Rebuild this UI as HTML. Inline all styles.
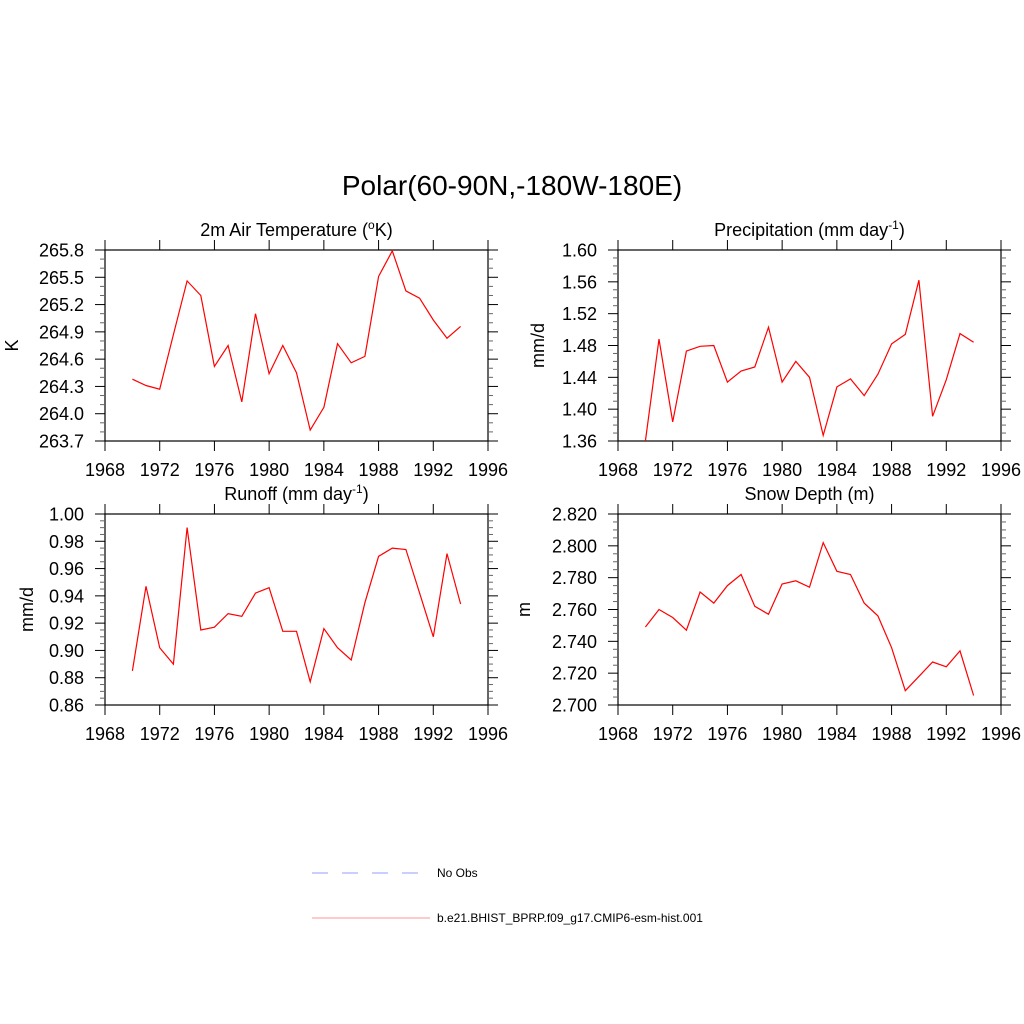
<!DOCTYPE html>
<html><head><meta charset="utf-8"><style>
html,body{margin:0;padding:0;background:#fff;}
svg{display:block;font-family:"Liberation Sans",sans-serif;}
</style></head><body>
<svg id="chart" width="1024" height="1024" viewBox="0 0 1024 1024">
<text x="512" y="195" font-size="28" text-anchor="middle">Polar(60-90N,-180W-180E)</text>
<g id="panels"></g>
<g>
<line x1="312" y1="873" x2="430" y2="873" stroke="#aab0ff" stroke-width="1.2" stroke-dasharray="16,14"/>
<text x="437" y="877" font-size="12">No Obs</text>
<line x1="312" y1="918" x2="430" y2="918" stroke="#ffaaaa" stroke-width="1.2"/>
<text x="437" y="922" font-size="12">b.e21.BHIST_BPRP.f09_g17.CMIP6-esm-hist.001</text>
</g>
</svg>
<script>
const years = [1970,1971,1972,1973,1974,1975,1976,1977,1978,1979,1980,1981,1982,1983,1984,1985,1986,1987,1988,1989,1990,1991,1992,1993,1994];
const tempValues = [264.38,264.31,264.27,264.87,265.46,265.30,264.52,264.75,264.13,265.10,264.44,264.75,264.45,263.82,264.07,264.77,264.56,264.63,265.51,265.79,265.35,265.27,265.03,264.83,264.96];
const precValues = [1.36,1.488,1.384,1.473,1.479,1.480,1.434,1.448,1.453,1.503,1.434,1.460,1.440,1.367,1.428,1.438,1.417,1.444,1.482,1.494,1.562,1.391,1.437,1.495,1.484];
const runoffValues = [0.885,0.947,0.902,0.890,0.990,0.915,0.917,0.927,0.925,0.942,0.946,0.914,0.914,0.877,0.916,0.902,0.893,0.935,0.969,0.975,0.974,0.942,0.910,0.971,0.934];
const snowValues = [2.749,2.760,2.755,2.747,2.771,2.764,2.775,2.782,2.762,2.757,2.776,2.778,2.774,2.802,2.784,2.782,2.764,2.756,2.736,2.709,2.718,2.727,2.724,2.734,2.706];
const xTicks = [1968,1972,1976,1980,1984,1988,1992,1996];
const tempTicks = ["263.7","264.0","264.3","264.6","264.9","265.2","265.5","265.8"];
const precTicks = ["1.36","1.40","1.44","1.48","1.52","1.56","1.60"];
const runoffTicks = ["0.86","0.88","0.90","0.92","0.94","0.96","0.98","1.00"];
const snowTicks = ["2.700","2.720","2.740","2.760","2.780","2.800","2.820"];

const NS='http://www.w3.org/2000/svg';
const root=document.getElementById('panels');
function mk(tag,attrs,parent){const e=document.createElementNS(NS,tag);for(const k in attrs)e.setAttribute(k,attrs[k]);parent.appendChild(e);return e;}

const panels=[
 {name:'temperature',x:105,y:250,title:'2m Air Temperature (',sup:'o',tail:'K)',ylab:'K',ticks:tempTicks,vals:tempValues,minor:3,yoff:93},
 {name:'precipitation',x:618,y:250,title:'Precipitation (mm day',sup:'-1',tail:')',ylab:'mm/d',ticks:precTicks,vals:precValues,minor:4,yoff:80},
 {name:'runoff',x:105,y:514,title:'Runoff (mm day',sup:'-1',tail:')',ylab:'mm/d',ticks:runoffTicks,vals:runoffValues,minor:4,yoff:78},
 {name:'snow-depth',x:618,y:514,title:'Snow Depth (m)',sup:'',tail:'',ylab:'m',ticks:snowTicks,vals:snowValues,minor:4,yoff:94}
];
const W=383,H=191;
panels.forEach(p=>{
 const g=mk('g',{},root);
 
 
 const x0=p.x,y0=p.y;
 const ymin=parseFloat(p.ticks[0]),ymax=parseFloat(p.ticks[p.ticks.length-1]);
 const sx=v=>x0+(v-xTicks[0])/(xTicks[xTicks.length-1]-xTicks[0])*W;
 const sy=v=>y0+H-(v-ymin)/(ymax-ymin)*H;
 const t=mk('text',{x:x0+W/2,y:y0-14,'font-size':18,'text-anchor':'middle'},g);
 
 
 t.appendChild(document.createTextNode(p.title));
 if(p.sup){const s=mk('tspan',{dy:-7,'font-size':12},t);s.textContent=p.sup;const r=mk('tspan',{dy:7},t);r.textContent=p.tail;}
 const fr=mk('rect',{x:x0,y:y0,width:W,height:H,fill:'none',stroke:'#000','stroke-width':1.2},g);
 
 
 const n=p.ticks.length-1;
 for(let i=0;i<=n;i++){
  const v=ymin+(ymax-ymin)*i/n, yy=sy(v);
  mk('line',{x1:x0-10,y1:yy,x2:x0,y2:yy,stroke:'#000','stroke-width':1},g);
  mk('line',{x1:x0+W,y1:yy,x2:x0+W+10,y2:yy,stroke:'#000','stroke-width':1},g);
  const lb=mk('text',{x:x0-21,y:yy+6.5,'font-size':18,'text-anchor':'end'},g);
  
  
  lb.textContent=p.ticks[i];
  if(i<n){for(let k=1;k<p.minor;k++){const ym=yy-(H/n)*k/p.minor;
   mk('line',{x1:x0-5,y1:ym,x2:x0,y2:ym,stroke:'#666','stroke-width':1},g);
   mk('line',{x1:x0+W,y1:ym,x2:x0+W+5,y2:ym,stroke:'#666','stroke-width':1},g);}}
 }
 xTicks.forEach(yr=>{const xx=sx(yr);
  mk('line',{x1:xx,y1:y0+H,x2:xx,y2:y0+H+10,stroke:'#000','stroke-width':1},g);
  mk('line',{x1:xx,y1:y0-10,x2:xx,y2:y0,stroke:'#000','stroke-width':1},g);
  const lb=mk('text',{x:xx,y:y0+H+35,'font-size':18,'text-anchor':'middle'},g);
  
  
  lb.textContent=yr;});
 const yt=mk('text',{x:0,y:0,'font-size':18,'text-anchor':'middle',transform:`translate(${x0-p.yoff+6},${y0+H/2}) rotate(-90)`},g);
 
 
 yt.textContent=p.ylab;
 const pts=years.map((yr,i)=>sx(yr).toFixed(1)+','+sy(p.vals[i]).toFixed(1)).join(' ');
 const pl=mk('polyline',{points:pts,fill:'none',stroke:'#ff0000','stroke-width':1.2},g);
 
 
});
</script>
</body></html>
